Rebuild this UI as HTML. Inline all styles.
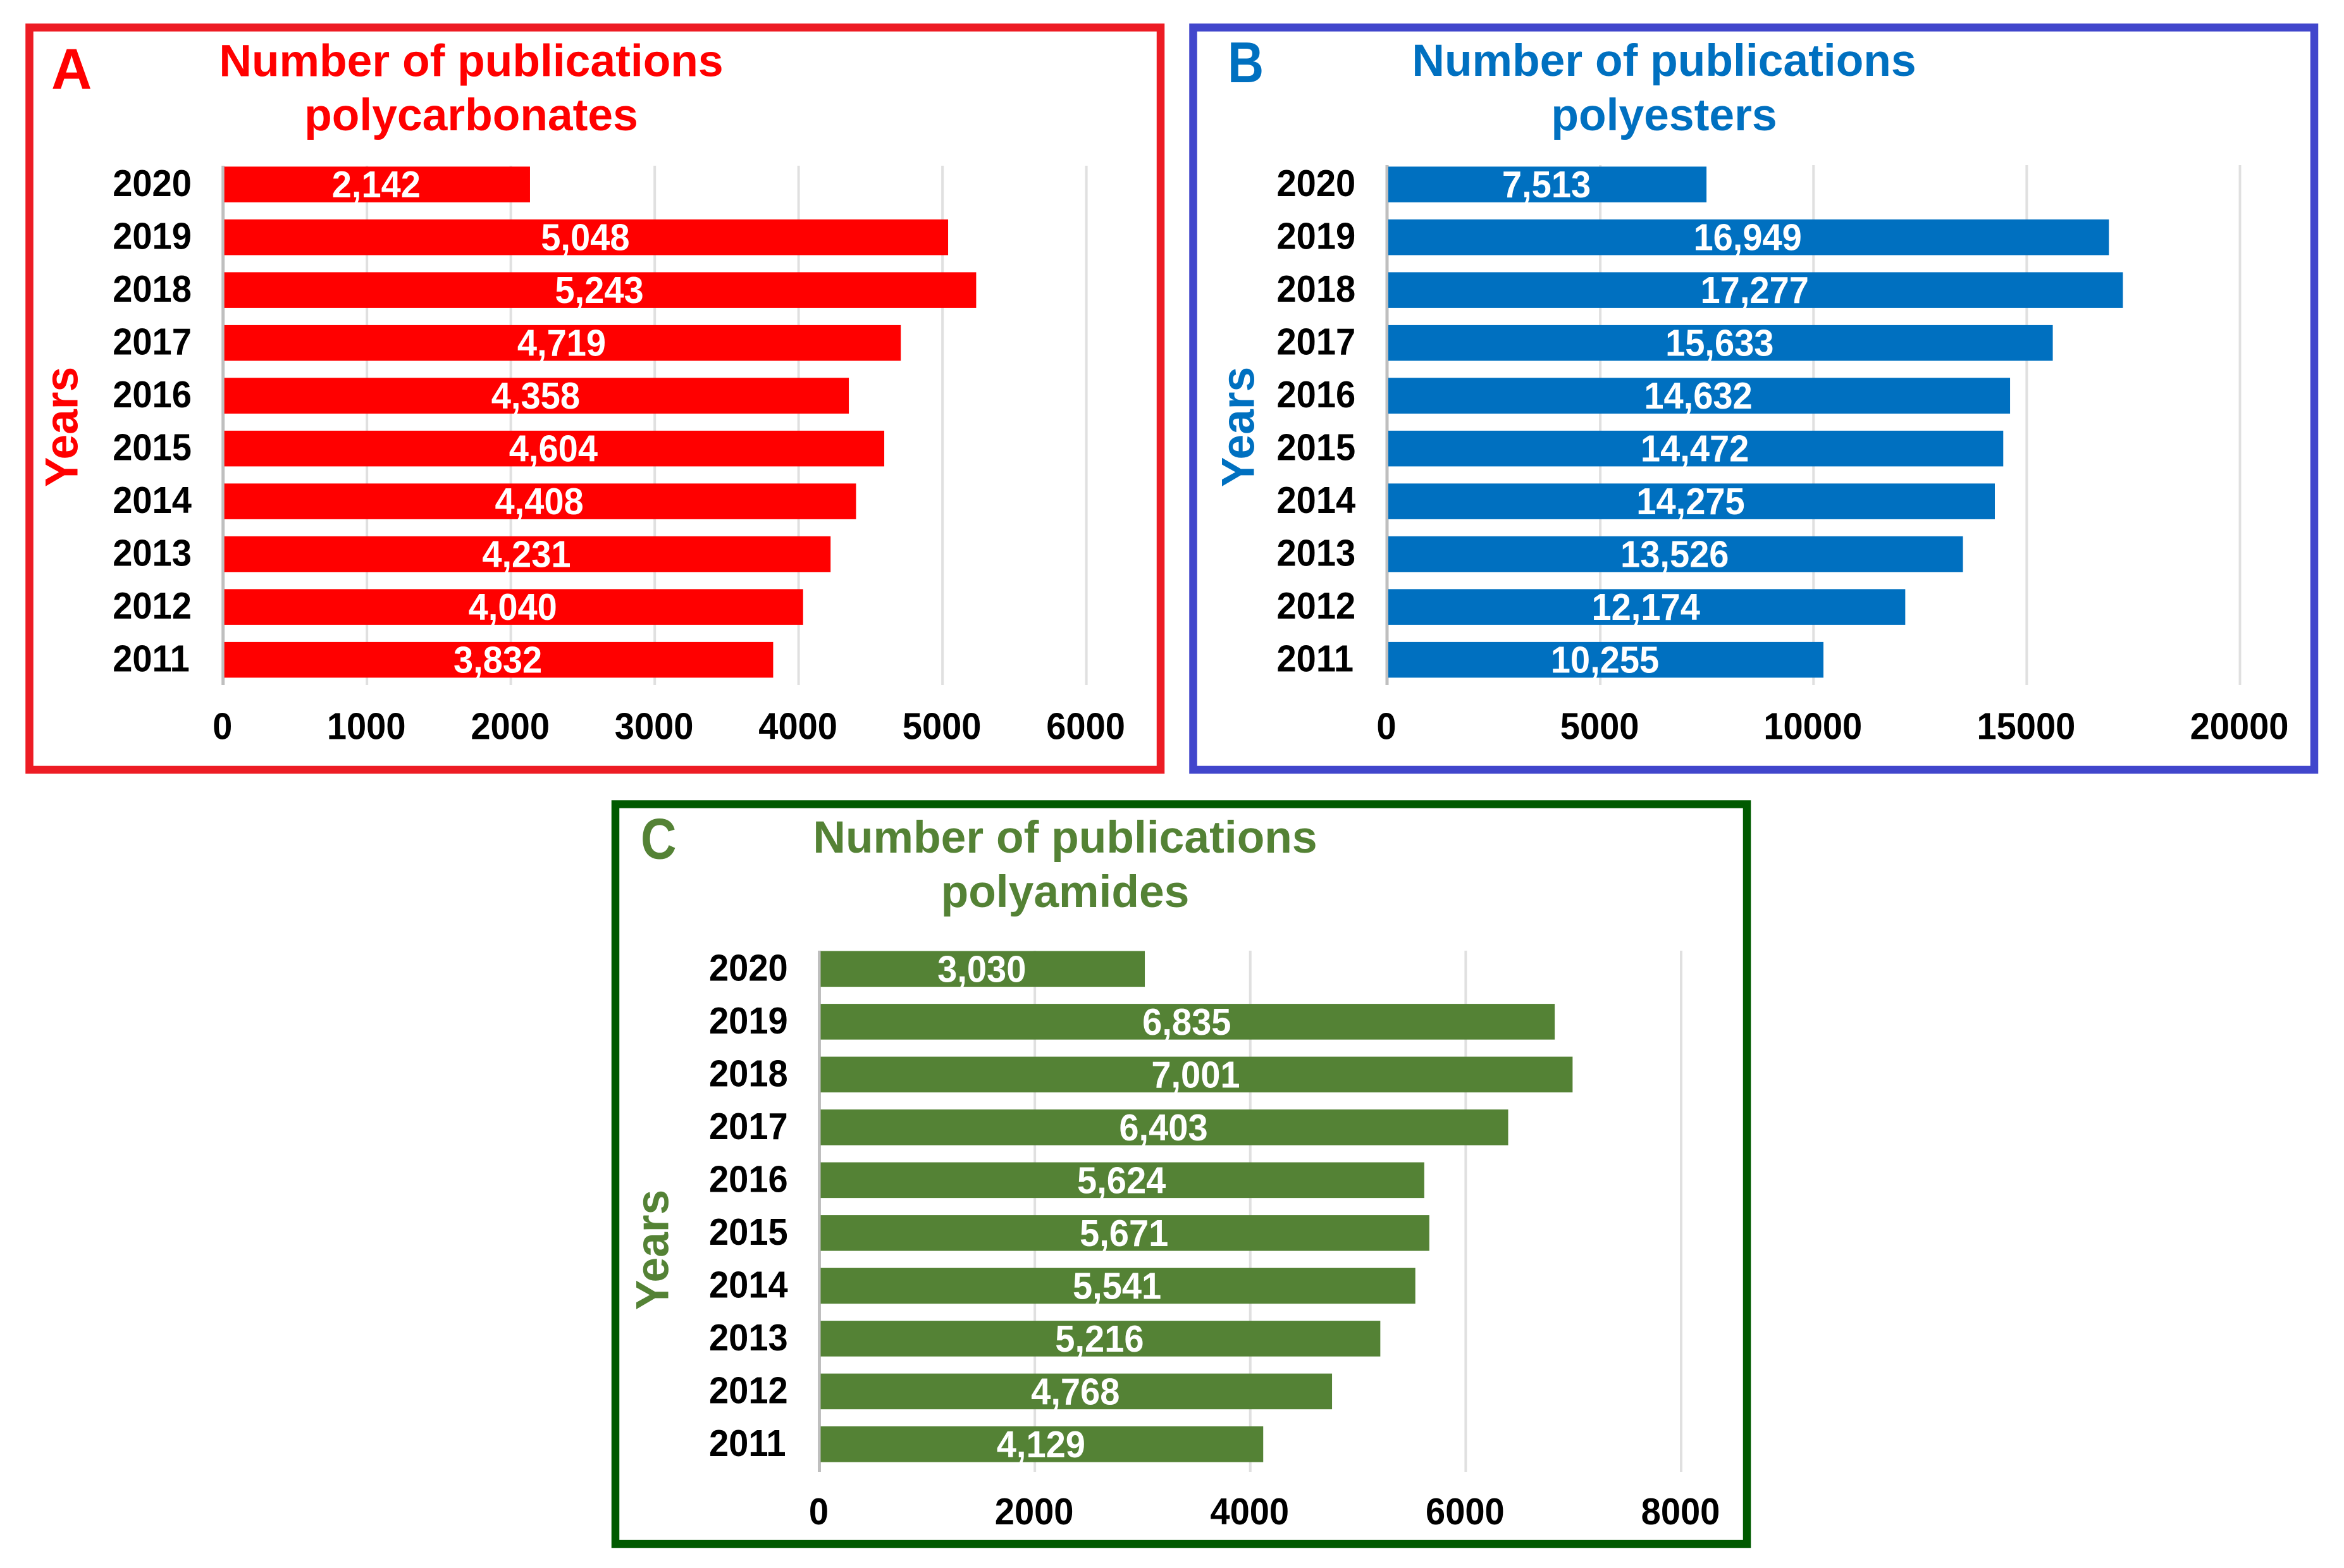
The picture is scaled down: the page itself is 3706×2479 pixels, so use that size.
<!DOCTYPE html>
<html lang="en">
<head>
<meta charset="utf-8">
<title>Number of publications: polycarbonates, polyesters, polyamides</title>
<style>
  html, body { margin: 0; padding: 0; background: #fff; }
  svg { display: block; }
  text { font-family: "Liberation Sans", Arial, sans-serif; font-weight: 700; }
</style>
</head>
<body>
<svg id="figure" xmlns="http://www.w3.org/2000/svg" width="3706" height="2479" viewBox="0 0 3706 2479">
  <rect x="0" y="0" width="3706" height="2479" fill="#ffffff"/>

  <g id="panel-a">
    <rect x="46.5" y="43.5" width="1788.5" height="1173.5" fill="none" stroke="#ED1C24" stroke-width="12.5"/>
    <text transform="translate(81,140.5) scale(0.98,1)" font-size="91" fill="#FF0000">A</text>
    <text x="745" y="120.5" text-anchor="middle" font-size="71.4" fill="#FF0000">Number of publications</text>
    <text x="745" y="206" text-anchor="middle" font-size="71.4" fill="#FF0000">polycarbonates</text>
    <text transform="translate(122.5,675) rotate(-90) scale(0.97,1)" text-anchor="middle" font-size="73.5" fill="#FF0000">Years</text>
  </g>

  <g id="panel-b">
    <rect x="1886.5" y="43.5" width="1772.5" height="1173.5" fill="none" stroke="#4146CC" stroke-width="12.5"/>
    <text transform="translate(1941,130) scale(0.87,1)" font-size="91" fill="#0070C0">B</text>
    <text x="2631" y="120" text-anchor="middle" font-size="71.4" fill="#0070C0">Number of publications</text>
    <text x="2631" y="206" text-anchor="middle" font-size="71.4" fill="#0070C0">polyesters</text>
    <text transform="translate(1982.5,675) rotate(-90) scale(0.97,1)" text-anchor="middle" font-size="73.5" fill="#0070C0">Years</text>
  </g>

  <g id="panel-c">
    <rect x="973" y="1271.5" width="1789" height="1169.5" fill="none" stroke="#005A00" stroke-width="12.5"/>
    <text transform="translate(1013,1357.5) scale(0.86,1)" font-size="91" fill="#548235">C</text>
    <text x="1684" y="1348" text-anchor="middle" font-size="71.4" fill="#548235">Number of publications</text>
    <text x="1684" y="1434" text-anchor="middle" font-size="71.4" fill="#548235">polyamides</text>
    <text transform="translate(1056.5,1976) rotate(-90) scale(0.97,1)" text-anchor="middle" font-size="73.5" fill="#548235">Years</text>
  </g>
</svg>

<script>
const years = [2020, 2019, 2018, 2017, 2016, 2015, 2014, 2013, 2012, 2011];
const polycarbonates = [2142, 5048, 5243, 4719, 4358, 4604, 4408, 4231, 4040, 3832];
const polyesters = [7513, 16949, 17277, 15633, 14632, 14472, 14275, 13526, 12174, 10255];
const polyamides = [3030, 6835, 7001, 6403, 5624, 5671, 5541, 5216, 4768, 4129];
const ticksA = [0, 1000, 2000, 3000, 4000, 5000, 6000];
const ticksB = [0, 5000, 10000, 15000, 20000];
const ticksC = [0, 2000, 4000, 6000, 8000];

const SVG_NS = 'http://www.w3.org/2000/svg';

function drawChart(panelId, prefix, values, ticks, layout) {
  const group = document.getElementById(panelId);
  const maxTick = ticks[ticks.length - 1];
  const xScale = function (v) {
    return layout.x0 + (v / maxTick) * (layout.x1 - layout.x0);
  };
  const yScale = function (i) {
    return layout.top + i * layout.pitch;
  };

  // Gridlines and tick labels
  ticks.forEach(function (tick) {
    const x = xScale(tick);
    const line = document.createElementNS(SVG_NS, 'line');
    line.setAttribute('x1', x);
    line.setAttribute('x2', x);
    line.setAttribute('y1', layout.axisTop);
    line.setAttribute('y2', layout.axisBottom);
    line.setAttribute('stroke', tick === 0 ? '#BFBFBF' : '#E0E0E0');
    line.setAttribute('stroke-width', tick === 0 ? 5 : 4);
    
    
    group.appendChild(line);

    const label = document.createElementNS(SVG_NS, 'text');
    label.setAttribute('transform', 'translate(' + (x - 1) + ',' + layout.tickBaseline + ') scale(0.95,1)');
    label.setAttribute('text-anchor', 'middle');
    label.setAttribute('font-size', '59');
    label.setAttribute('fill', '#000000');
    
    
    label.textContent = String(tick);
    group.appendChild(label);
  });

  // Bars, value labels and year labels
  years.forEach(function (year, i) {
    const value = values[i];
    const top = yScale(i);
    const start = layout.x0 + 2;
    const end = xScale(value) + layout.barEndOffset;

    const bar = document.createElementNS(SVG_NS, 'rect');
    bar.setAttribute('x', start);
    bar.setAttribute('y', top);
    bar.setAttribute('width', end - start);
    bar.setAttribute('height', layout.barHeight);
    bar.setAttribute('fill', layout.color);
    
    
    group.appendChild(bar);

    const valueLabel = document.createElementNS(SVG_NS, 'text');
    valueLabel.setAttribute('transform', 'translate(' + ((start + end) / 2 - 1.5) + ',' + (top + layout.barHeight / 2 + 20.5) + ') scale(0.95,1)');
    valueLabel.setAttribute('text-anchor', 'middle');
    valueLabel.setAttribute('font-size', '59');
    valueLabel.setAttribute('fill', '#FFFFFF');
    
    
    valueLabel.textContent = value.toLocaleString('en-US');
    group.appendChild(valueLabel);

    const yearLabel = document.createElementNS(SVG_NS, 'text');
    yearLabel.setAttribute('transform', 'translate(' + (layout.x0 - 174.5) + ',' + (top + layout.barHeight / 2 + 18.5) + ') scale(0.95,1)');
    yearLabel.setAttribute('text-anchor', 'start');
    yearLabel.setAttribute('font-size', '59');
    yearLabel.setAttribute('fill', '#000000');
    
    
    yearLabel.textContent = String(year);
    group.appendChild(yearLabel);
  });
}

drawChart('panel-a', 'panel-a', polycarbonates, ticksA, {
  x0: 352.7, x1: 1717.6, top: 263.4, pitch: 83.5, barHeight: 56.5, barEndOffset: -2,
  axisTop: 262, axisBottom: 1083, tickBaseline: 1168.5, color: '#FF0000'
});
drawChart('panel-b', 'panel-b', polyesters, ticksB, {
  x0: 2193, x1: 3541.5, top: 263.4, pitch: 83.5, barHeight: 56.5, barEndOffset: -1.5,
  axisTop: 261, axisBottom: 1083, tickBaseline: 1168.5, color: '#0070C0'
});
drawChart('panel-c', 'panel-c', polyamides, ticksC, {
  x0: 1295.5, x1: 2658, top: 1503.6, pitch: 83.5, barHeight: 56.5, barEndOffset: -1.5,
  axisTop: 1503, axisBottom: 2327, tickBaseline: 2410, color: '#548235'
});
</script>
</body>
</html>
